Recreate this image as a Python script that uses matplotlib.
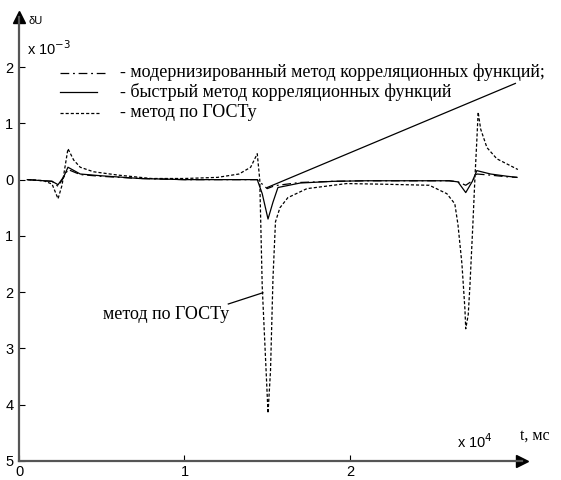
import matplotlib
matplotlib.use("Agg")
import matplotlib.pyplot as plt

# time, x 10^4 ms
t_fast = [0.05, 0.15, 0.20, 0.236, 0.27, 0.296, 0.37, 0.49, 0.73, 1.0, 1.2, 1.44,
          1.47, 1.505, 1.535, 1.565, 1.70, 1.90, 2.10, 2.40, 2.60, 2.653, 2.70,
          2.74, 2.767, 2.85, 2.95, 3.01]
# deviation, x 10^-3
u_fast = [0.0, -0.02, -0.03, -0.09, 0.05, 0.22, 0.10, 0.07, 0.02, 0.0, 0.0, 0.0,
          -0.25, -0.70, -0.40, -0.14, -0.06, -0.03, -0.02, -0.02, -0.02, -0.04, -0.23,
          -0.03, 0.16, 0.10, 0.06, 0.04]

t_mod = [0.05, 0.15, 0.20, 0.236, 0.27, 0.296, 0.37, 0.49, 0.73, 1.0, 1.2, 1.44,
         1.47, 1.50, 1.535, 1.565, 1.70, 1.90, 2.10, 2.40, 2.60, 2.653, 2.70,
         2.74, 2.767, 2.85, 2.95, 3.01]
u_mod = [0.0, -0.02, -0.03, -0.12, 0.04, 0.18, 0.09, 0.06, 0.02, 0.0, 0.0, 0.0,
         -0.08, -0.16, -0.12, -0.10, -0.05, -0.03, -0.02, -0.02, -0.02, -0.04, -0.10,
         -0.02, 0.10, 0.08, 0.05, 0.04]

t_gost = [0.054, 0.15, 0.20, 0.236, 0.26, 0.296, 0.33, 0.37, 0.45, 0.60, 0.80, 1.0,
          1.2, 1.33, 1.40, 1.44, 1.455, 1.47, 1.495, 1.505, 1.52, 1.535, 1.55,
          1.577, 1.625, 1.74, 1.98, 2.18, 2.48, 2.586, 2.634, 2.653, 2.677, 2.695,
          2.70, 2.715, 2.725, 2.743, 2.755, 2.767, 2.775, 2.79, 2.828, 2.888, 3.015]
u_gost = [0.0, -0.02, -0.08, -0.34, -0.10, 0.55, 0.35, 0.22, 0.14, 0.08, 0.02, 0.02,
          0.04, 0.10, 0.22, 0.46, 0.0, -1.9, -3.5, -4.15, -3.4, -1.75, -0.75,
          -0.50, -0.32, -0.16, -0.07, -0.08, -0.10, -0.25, -0.43, -0.80, -1.50, -2.30,
          -2.65, -2.40, -1.90, -0.80, 0.0, 0.70, 1.20, 0.90, 0.57, 0.37, 0.18]

legend_labels = ["- модернизированный метод корреляционных функций;",
                 "- быстрый метод корреляционных функций",
                 "- метод по ГОСТу"]

y_ticks = [2, 1, 0, -1, -2, -3, -4, -5]
x_ticks = [0, 1, 2]

ink = "black"
axis_col = "#555555"
serif = "Liberation Serif"
sans = "Liberation Sans"

dashdot = (0, (7, 3, 1.5, 3))
dashed = (0, (2.5, 1.6))

fig = plt.figure(figsize=(5.61, 4.8), dpi=100)
ax = fig.add_axes([19 / 561, 19 / 480, (522 - 19) / 561, (461 - 17) / 480])
xmax, ymin, ymax = 3.04, -5.0, 2.89
ax.set_xlim(0, xmax)
ax.set_ylim(ymin, ymax)

ax.plot(t_gost, u_gost, color=ink, lw=0.9, ls=dashed)
ax.plot(t_mod, u_mod, color=ink, lw=0.9, ls=dashdot)
ax.plot(t_fast, u_fast, color=ink, lw=0.9)

# axes with arrow heads
for s in ["top", "right"]:
    ax.spines[s].set_visible(False)
for s in ["left", "bottom"]:
    ax.spines[s].set_color(axis_col)
    ax.spines[s].set_linewidth(1.6)
ax.plot([xmax], [ymin], marker=">", ms=8, color=ink, clip_on=False)
ax.plot([0], [ymax], marker="^", ms=8, color=ink, clip_on=False)

ax.set_xticks(x_ticks)
ax.set_xticklabels([str(v) for v in x_ticks], fontfamily=sans, fontsize=10.5)
ax.set_yticks(y_ticks)
ax.set_yticklabels([str(abs(v)) for v in y_ticks], fontfamily=sans, fontsize=10.5)
ax.tick_params(direction="in", length=4, color=ink, width=0.8)
ax.tick_params(axis="x", pad=3)
ax.tick_params(axis="y", pad=4)

ax.text(0.06, 2.82, "δU", fontfamily=sans, fontsize=8, va="center", ha="left")
ax.text(0.05, 2.33, r"x 10$^{-3}$", fontfamily=sans, fontsize=10.5, va="center", ha="left")
ax.text(2.65, -4.65, r"x 10$^{4}$", fontfamily=sans, fontsize=10.5, va="center", ha="left")
ax.text(3.03, -4.55, "t, мс", fontfamily=serif, fontsize=11.5, va="center", ha="left",
        clip_on=False)

# legend drawn by hand
rows_y = [1.90, 1.55, 1.19]
styles = [dashdot, "-", dashed]
ends = [0.53, 0.47, 0.49]
for y, st, xe, lab in zip(rows_y, styles, ends, legend_labels):
    ax.plot([0.25, xe], [y, y], color=ink, lw=0.9, ls=st)
    ax.text(0.61, y, lab, fontfamily=serif, fontsize=13, va="center", ha="left",
            clip_on=False)

# pointer lines
ax.plot([1.50, 3.00], [-0.14, 1.71], color=ink, lw=0.9, clip_on=False)
ax.plot([1.265, 1.474], [-2.21, -2.01], color=ink, lw=0.9)
ax.text(0.505, -2.39, "метод по ГОСТу", fontfamily=serif, fontsize=13, va="center",
        ha="left")

fig.savefig("out.png", dpi=100)
